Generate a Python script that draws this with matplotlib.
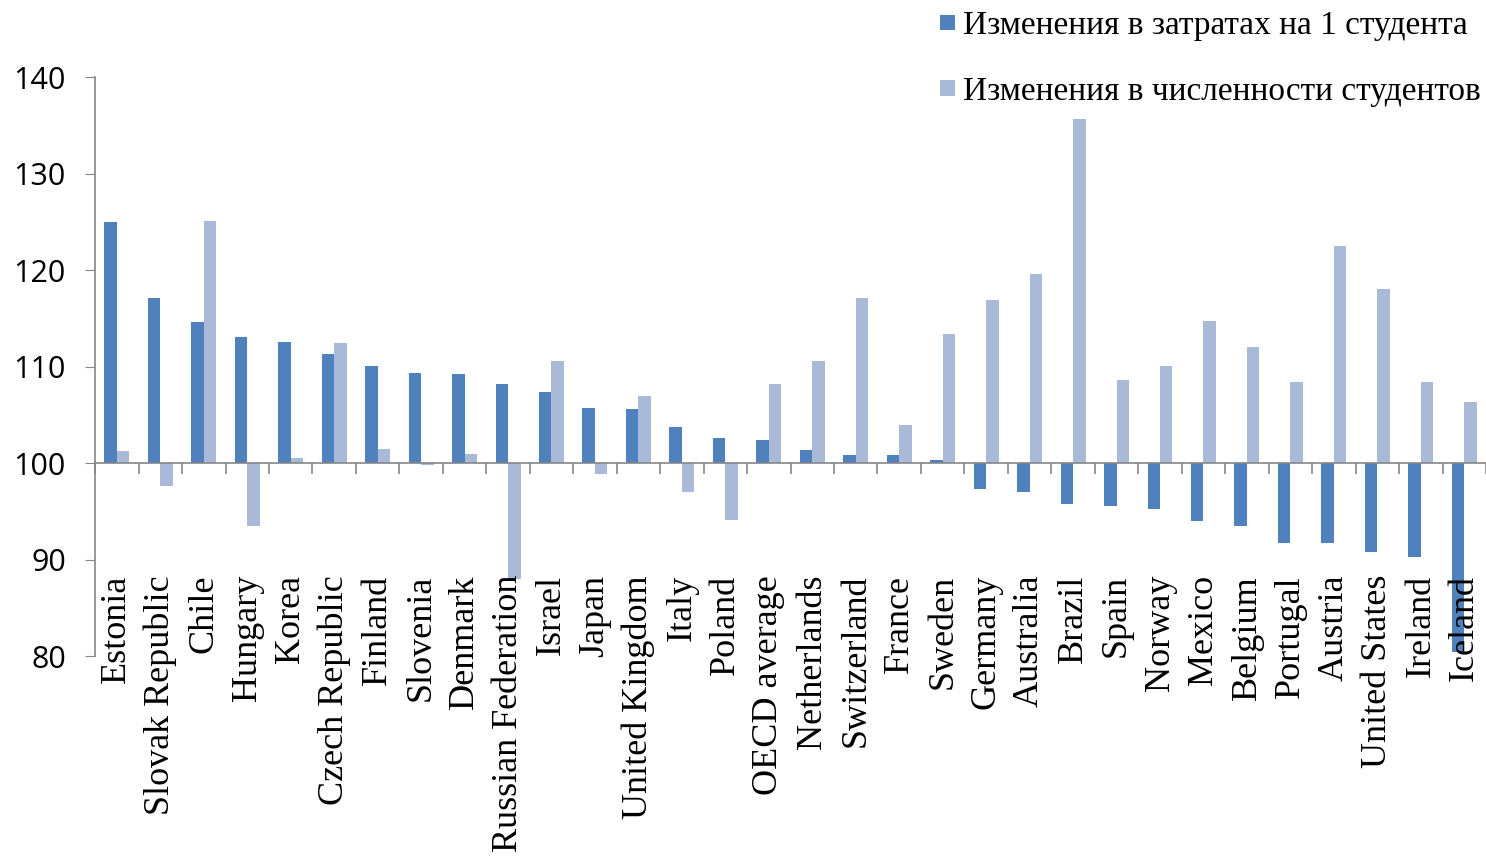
import numpy as np
import matplotlib
matplotlib.use("Agg")
import matplotlib.pyplot as plt
from matplotlib.container import BarContainer
from matplotlib.legend_handler import HandlerPatch, update_from_first_child
from matplotlib.patches import Rectangle

# data
countries = ["Estonia", "Slovak Republic", "Chile", "Hungary", "Korea", "Czech Republic",
             "Finland", "Slovenia", "Denmark", "Russian Federation", "Israel", "Japan",
             "United Kingdom", "Italy", "Poland", "OECD average", "Netherlands", "Switzerland",
             "France", "Sweden", "Germany", "Australia", "Brazil", "Spain", "Norway", "Mexico",
             "Belgium", "Portugal", "Austria", "United States", "Ireland", "Iceland"]
spend_per_student = [125.0, 117.1, 114.6, 113.1, 112.5, 111.3, 110.1, 109.3, 109.2, 108.2,
                     107.4, 105.7, 105.6, 103.7, 102.6, 102.4, 101.3, 100.8, 100.8, 100.3,
                     97.3, 97.0, 95.8, 95.5, 95.2, 94.0, 93.5, 91.7, 91.7, 90.8, 90.3, 80.4]
student_numbers = [101.2, 97.6, 125.1, 93.5, 100.5, 112.4, 101.5, 99.8, 100.9, 88.0,
                   110.6, 98.9, 106.9, 97.0, 94.1, 108.2, 110.6, 117.1, 103.9, 113.4,
                   116.9, 119.6, 135.7, 108.6, 110.1, 114.7, 112.0, 108.4, 122.5, 118.0,
                   108.4, 106.3]
legend_labels = ["Изменения в затратах на 1 студента", "Изменения в численности студентов"]
yticks = [80, 90, 100, 110, 120, 130, 140]

dark = "#4F81BD"
light = "#A9BAD8"
grey = "#868686"
base = 100

fig = plt.figure(figsize=(14.86, 8.56), dpi=100)
ax = fig.add_axes([0.064, 0.2336, 0.936, 0.6764])

x = np.arange(len(countries))
bw = 0.287
spend = np.array(spend_per_student)
students = np.array(student_numbers)
b1 = ax.bar(x - bw / 2, spend - base, bw, bottom=base, color=dark, label=legend_labels[0])
b2 = ax.bar(x + bw / 2, students - base, bw, bottom=base, color=light, label=legend_labels[1])

ax.set_xlim(-0.5, len(countries) - 0.5)
ax.set_ylim(yticks[0], yticks[-1])
ax.set_yticks(yticks)
ax.tick_params(axis="y", length=7, color=grey, pad=14, labelsize=22)
for lab in ax.get_yticklabels():
    lab.set_fontfamily("Open Sans")

ax.spines["top"].set_visible(False)
ax.spines["right"].set_visible(False)
ax.spines["left"].set_color(grey)
ax.spines["bottom"].set_color(grey)
ax.spines["bottom"].set_position(("data", base))
ax.spines["left"].set_linewidth(1.2)
ax.spines["bottom"].set_linewidth(1.2)

# category boundaries as tick marks, labels drawn at the bottom of the plot
ax.set_xticks([])
ax.set_xticks(np.arange(len(countries) + 1) - 0.5, minor=True)
ax.tick_params(axis="x", which="minor", length=8, color=grey, width=1.2)
for i, name in enumerate(countries):
    ax.text(i, 0.14, name, transform=ax.get_xaxis_transform(), rotation=90,
            ha="center", va="top", fontsize=26, family="Liberation Serif", color="black")


# square legend markers (about 11pt each side)
def square(legend, orig_handle, xdescent, ydescent, width, height, fontsize):
    s = 11
    return Rectangle((width - s - xdescent, height / 2 - s / 2 - ydescent), s, s)


fig.legend(handles=[b1, b2], loc="upper right", bbox_to_anchor=(1.008, 1.007), frameon=False,
           prop={"family": "Liberation Serif", "size": 24}, handlelength=0.45, handleheight=0.7,
           handletextpad=0.25, labelspacing=1.05, borderaxespad=0.1,
           handler_map={BarContainer: HandlerPatch(patch_func=square,
                                                   update_func=update_from_first_child)})

fig.savefig("out.png", dpi=100)
